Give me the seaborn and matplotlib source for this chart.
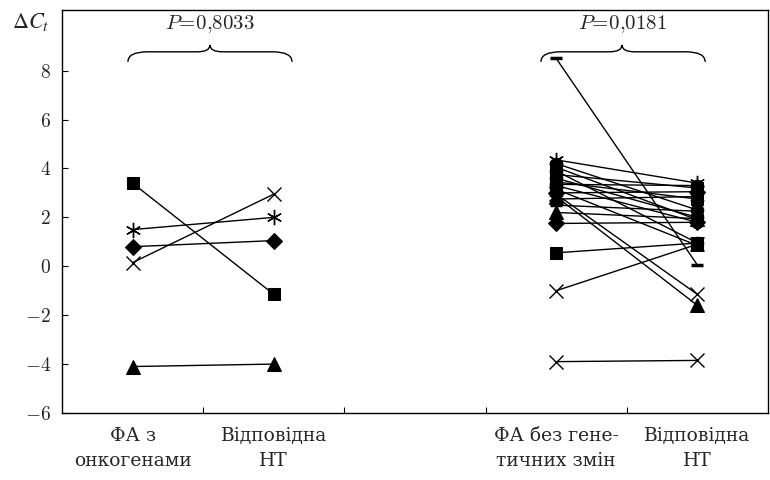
import numpy as np
import pandas as pd
import matplotlib
matplotlib.use("Agg")
import matplotlib.pyplot as plt
from matplotlib.path import Path
from matplotlib.patches import PathPatch
import seaborn as sns

# group 1: ФА з онкогенами vs відповідна НТ
onco_fa = [3.4, 1.5, 0.8, 0.15, -4.1]
onco_nt = [-1.15, 2.0, 1.05, 2.95, -4.0]
onco_mk = ["s", "ast", "D", "x", "^"]

# group 2: ФА без генетичних змін vs відповідна НТ
nogen_fa = [8.5, -1.0, 0.55, -3.9, 2.85, 2.95, 4.35, 4.2, 4.05, 3.9, 3.75,
            3.6, 3.45, 3.3, 3.15, 3.0, 2.75, 2.5, 2.2, 1.75, 3.35]
nogen_nt = [0.05, 0.9, 0.95, -3.85, -1.6, -1.15, 3.4, 2.3, 1.9, 0.95, 3.2,
            2.0, 2.75, 1.8, 0.85, 3.05, 2.85, 2.25, 1.95, 1.8, 3.3]
nogen_mk = ["_", "x", "s", "x", "^", "x", "ast", "o", "s", "o", "s",
            "o", "s", "o", "s", "D", "ast", "_", "^", "D", "o"]

positions = [1, 2, 4, 5]
tick_labels = ["ФА з\nонкогенами", "Відповідна\nНТ",
               "ФА без гене-\nтичних змін", "Відповідна\nНТ"]
p_values = ["0{,}8033", "0{,}0181"]

rows = []
sid = 0
for fa, nt, mk in zip(onco_fa, onco_nt, onco_mk):
    rows.append((sid, positions[0], fa, mk))
    rows.append((sid, positions[1], nt, mk))
    sid += 1
for fa, nt, mk in zip(nogen_fa, nogen_nt, nogen_mk):
    rows.append((sid, positions[2], fa, mk))
    rows.append((sid, positions[3], nt, mk))
    sid += 1
df = pd.DataFrame(rows, columns=["subject", "pos", "dct", "marker"])

sns.set_style("ticks")
plt.rcParams["font.family"] = ["DejaVu Serif"]
plt.rcParams["mathtext.fontset"] = "cm"

marker_map = {
    "s": dict(marker="s", markersize=9),
    "D": dict(marker="D", markersize=8),
    "^": dict(marker="^", markersize=10),
    "o": dict(marker="o", markersize=9),
    "x": dict(marker="x", markersize=10, markeredgewidth=1.0),
    "ast": dict(marker=(6, 2, 0), markersize=11, markeredgewidth=1.0),
    "_": dict(marker="_", markersize=9, markeredgewidth=2.5),
}

fig = plt.figure(figsize=(7.7, 4.8), dpi=100)
ax = fig.add_axes([0.0805, 0.1396, 0.9169, 0.8406])

for s, sub in df.groupby("subject"):
    mk = sub["marker"].iloc[0]
    sns.lineplot(data=sub, x="pos", y="dct", ax=ax, estimator=None,
                 errorbar=None, color="black", linewidth=1.0,
                 markerfacecolor="black", markeredgecolor="black",
                 **marker_map[mk])

ax.set_xlim(0.5, 5.5)
ax.set_ylim(-6, 10.5)
ax.set_xlabel("")
ax.set_ylabel("")

yt = [-6, -4, -2, 0, 2, 4, 6, 8]
ax.set_yticks(yt)
ax.set_yticklabels([r"$%d$" % v for v in yt], fontsize=14)
ax.set_xticks([1.5, 2.5, 3.5, 4.5])
ax.set_xticklabels([])
ax.set_xticks(positions, minor=True)
ax.set_xticklabels(tick_labels, minor=True, fontsize=13.5, linespacing=1.5,
                   fontfamily="DejaVu Serif")
ax.tick_params(axis="x", which="minor", length=0, pad=10)
ax.tick_params(axis="both", which="major", direction="in", length=4,
               width=0.8, color="black")
ax.tick_params(axis="y", pad=8)
for sp in ax.spines.values():
    sp.set_color("black")
    sp.set_linewidth(1.0)


def brace(ax, x0, x1, xm, y_end, y_mid, y_tip, dx=0.14, dt=0.09):
    verts = [(x0, y_end), (x0, y_mid), (x0 + dx, y_mid),
             (xm - dt, y_mid),
             (xm, y_mid), (xm, y_tip),
             (xm, y_mid), (xm + dt, y_mid),
             (x1 - dx, y_mid),
             (x1, y_mid), (x1, y_end)]
    codes = [Path.MOVETO, Path.CURVE3, Path.CURVE3,
             Path.LINETO,
             Path.CURVE3, Path.CURVE3,
             Path.CURVE3, Path.CURVE3,
             Path.LINETO,
             Path.CURVE3, Path.CURVE3]
    ax.add_patch(PathPatch(Path(verts, codes), fill=False, lw=1.0,
                           edgecolor="black", clip_on=False))


brace(ax, 0.967, 2.129, 1.548, 8.36, 8.77, 9.05)
brace(ax, 3.892, 5.055, 4.466, 8.36, 8.77, 9.05)
ax.text(1.548, 9.9, r"$P\!=\!%s$" % p_values[0], ha="center", va="center",
        fontsize=15)
ax.text(4.466, 9.9, r"$P\!=\!%s$" % p_values[1], ha="center", va="center",
        fontsize=15)

fig.text(31 / 770, 1 - 22 / 480, r"$\mathit{\Delta}\mathit{C}_t$",
         ha="center", va="center", fontsize=16, math_fontfamily="stix")

fig.savefig("out.png", dpi=100)
